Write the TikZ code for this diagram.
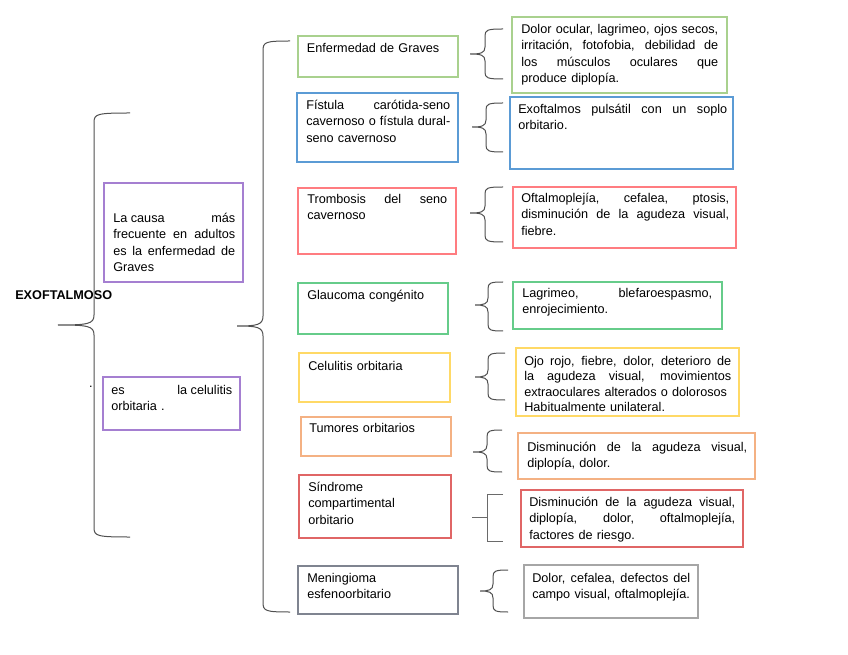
\documentclass[tikz,border=0pt]{standalone}
\usepackage{fontspec}
\setmainfont{Liberation Sans}
\definecolor{cpurple}{HTML}{A57FD1}
\definecolor{cgreenA}{HTML}{A9D18E}
\definecolor{cblue}{HTML}{5B9BD5}
\definecolor{credA}{HTML}{FF7C80}
\definecolor{cgreenB}{HTML}{66CC8A}
\definecolor{cyellow}{HTML}{FFD966}
\definecolor{corange}{HTML}{F4B183}
\definecolor{credB}{HTML}{E06666}
\definecolor{cslate}{HTML}{7F8490}
\definecolor{cgray}{HTML}{A6A6A6}
\definecolor{cbrace}{HTML}{505050}
\newcommand\rsp{\spaceskip=0pt\relax\xspaceskip=0pt\relax}
\newcommand\fs{\fontsize{9.5}{12.2}\selectfont\rsp}
\newcommand\fst{\fontsize{9.5}{11.5}\selectfont\rsp}
\newcommand\J[1]{\makebox[\linewidth][s]{\rsp #1}}
% box: name, x1, y1, x2, y2, colour
\newcommand\bx[6]{\node[boxst=#6, minimum width={(#4-#2)*0.75pt}, minimum height={(#5-#3)*0.75pt}] (#1) at ({(#2+#4)/2},{(#3+#5)/2}) {};}
% curly brace: xv, ytop, ybot, xtip, ytip, xend, r
\newcommand\cbr[7]{\draw[bracest] ({#6},{#2}) .. controls ({#1+2},{#2}) and ({#1},{#2+1}) .. ({#1},{#2+#7}) -- ({#1},{#5-#7}) .. controls ({#1},{#5-1}) and ({#1-#7*0.6},{#5}) .. ({#4},{#5}) .. controls ({#1-#7*0.6},{#5}) and ({#1},{#5+1}) .. ({#1},{#5+#7}) -- ({#1},{#3-#7}) .. controls ({#1},{#3-1}) and ({#1+2},{#3}) .. ({#6},{#3});}
\tikzset{
  boxst/.style={draw=#1, line width=0.9pt, inner sep=0pt},
  txt/.style={inner sep=0pt, align=left, anchor=base west, font=\fs, text width=110pt},
  bracest/.style={draw=cbrace, line width=0.75pt},
}
\begin{document}
\begin{tikzpicture}[x=0.75pt, y=-0.75pt]
\useasboundingbox (0,0) rectangle (848,655);
\fill[white] (0,0) rectangle (848,655);

% title
\node[inner sep=0pt, anchor=base west, font=\fs\bfseries] (title) at (15,299.5) {EXOFTALMOSO};

% braces
\cbr{94}{113}{537}{58}{325}{130}{10}
\cbr{263}{41}{612}{237}{326}{290}{10}
\cbr{485}{29}{79}{470}{54}{503}{7}
\cbr{486}{103}{152}{472}{127}{503}{7}
\cbr{485}{187}{242}{470}{213}{503}{7}
\cbr{488}{282}{331}{475}{305}{503}{7}
\cbr{488}{353}{400}{475}{377}{505}{7}
\cbr{487}{430}{472}{473}{452}{502}{7}
\draw[bracest, draw=cbrace!85] (503,494.5) -- (487.5,494.5) -- (487.5,541.5) -- (503,541.5);
\draw[bracest, draw=cbrace!85] (472,517.5) -- (487.5,517.5);
\cbr{493}{570}{612}{480}{591}{508}{7}

% left boxes
\bx{L1}{104}{183}{243}{282}{cpurple}
\node[txt, text width=91.5pt] (tL1) at (113,222.5) {\J{La causa\hfill más}\\\J{frecuente en adultos}\\\J{es la enfermedad de}\\Graves};
\bx{L2}{103}{377}{240}{430}{cpurple}
\node[txt, text width=90.75pt] (tL2) at (111,394.5) {\J{es\hfill la celulitis}\\orbitaria .};
\node[inner sep=0pt, anchor=base, font=\fs] (dot) at (91,387.5) {.};

% middle boxes
\bx{M1}{298}{36}{458}{77}{cgreenA}
\node[txt] (tM1) at (306.7,52.5) {Enfermedad de Graves};
\bx{M2}{297}{93}{458}{162}{cblue}
\node[txt, text width=108pt] (tM2) at (306,109.5) {\J{Fístula\hfill carótida-seno}\\\J{cavernoso o fístula dural-}\\seno cavernoso};
\bx{M3}{298}{188}{456}{254}{credA}
\node[txt, text width=105pt] (tM3) at (307,203.5) {\J{Trombosis del seno}\\cavernoso};
\bx{M4}{298}{283}{448}{334}{cgreenB}
\node[txt] (tM4) at (307,299.5) {Glaucoma congénito};
\bx{M5}{299}{353}{450}{402}{cyellow}
\node[txt] (tM5) at (308,370.5) {Celulitis orbitaria};
\bx{M6}{301}{417}{451}{456}{corange}
\node[txt] (tM6) at (309,432.5) {Tumores orbitarios};
\bx{M7}{299}{475}{451}{538}{credB}
\node[txt] (tM7) at (308,491.5) {Síndrome\\compartimental\\orbitario};
\bx{M8}{298}{566}{458}{614}{cslate}
\node[txt] (tM8) at (307,582.5) {Meningioma\\esfenoorbitario};

% right boxes
\bx{R1}{512}{17}{727}{93}{cgreenA}
\node[txt, text width=147.75pt] (tR1) at (521,33.5) {\J{Dolor ocular, lagrimeo, ojos secos,}\\\J{irritación, fotofobia, debilidad de}\\\J{los músculos oculares que}\\produce diplopía.};
\bx{R2}{510}{97}{733}{169}{cblue}
\node[txt, text width=156.75pt] (tR2) at (518,113.5) {\J{Exoftalmos pulsátil con un soplo}\\orbitario.};
\bx{R3}{513}{187}{736}{248}{credA}
\node[txt, text width=156pt] (tR3) at (521,202.5) {\J{Oftalmoplejía, cefalea, ptosis,}\\\J{disminución de la agudeza visual,}\\fiebre.};
\bx{R4}{513}{282}{722}{329}{cgreenB}
\node[txt, text width=142.5pt] (tR4) at (522,297.5) {\J{Lagrimeo,\hfill blefaroespasmo,}\\enrojecimiento.};
\bx{R5}{516}{348}{739}{416}{cyellow}
\node[txt, text width=155.25pt, font=\fst] (tR5) at (524,365.5) {\J{Ojo rojo, fiebre, dolor, deterioro de}\\\J{la agudeza visual, movimientos}\\extraoculares alterados o dolorosos\\Habitualmente unilateral.};
\bx{R6}{518}{433}{755}{479}{corange}
\node[txt, text width=165pt] (tR6) at (527,451.5) {\J{Disminución de la agudeza visual,}\\diplopía, dolor.};
\bx{R7}{521}{490}{743}{547}{credB}
\node[txt, text width=154.5pt] (tR7) at (529,506.5) {\J{Disminución de la agudeza visual,}\\\J{diplopía, dolor, oftalmoplejía,}\\factores de riesgo.};
\bx{R8}{524}{565}{698}{618}{cgray}
\node[txt, text width=118.5pt] (tR8) at (532,582.5) {\J{Dolor, cefalea, defectos del}\\campo visual, oftalmoplejía.};
\end{tikzpicture}
\end{document}
